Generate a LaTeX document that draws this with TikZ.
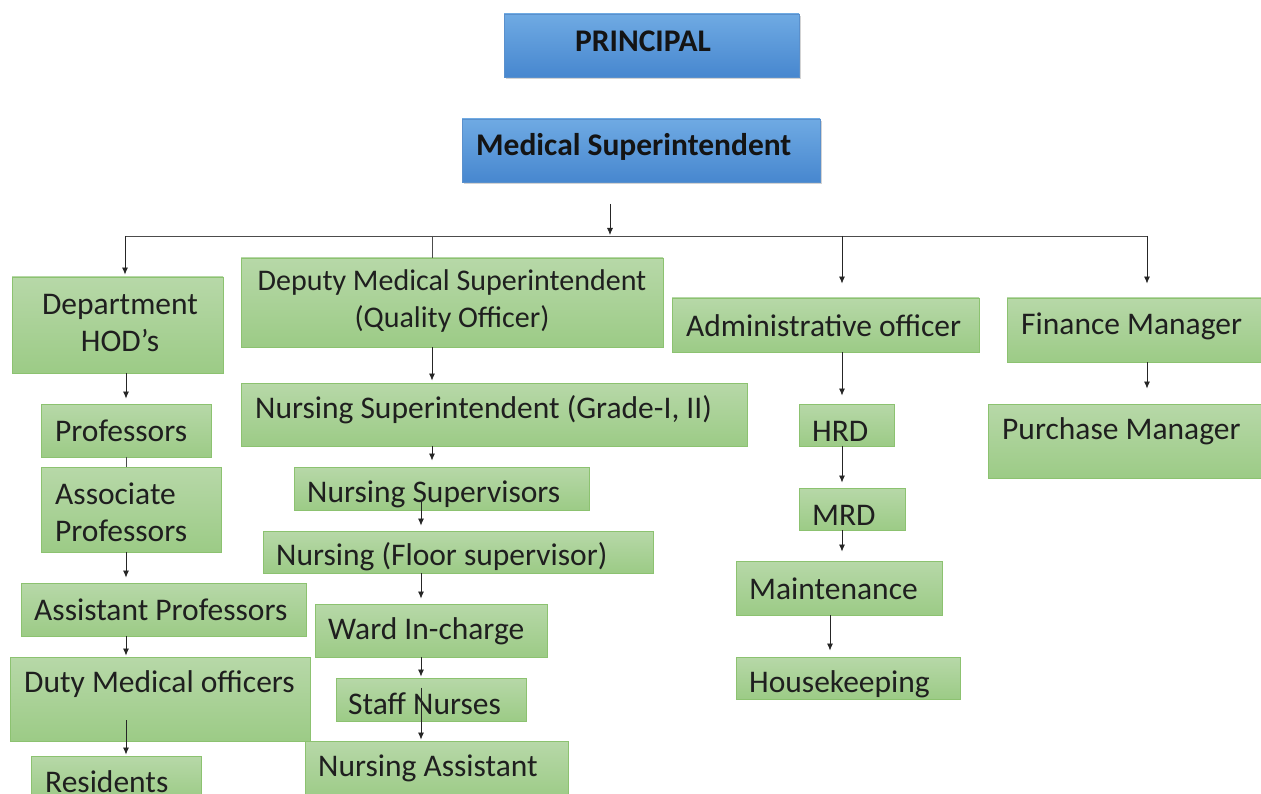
\documentclass[tikz,border=0pt]{standalone}
\usepackage{fontspec}
\setmainfont{Carlito}
\usetikzlibrary{fit,shadows,arrows.meta}
\definecolor{gtop}{HTML}{B7D8A8}
\definecolor{gbot}{HTML}{9CCB86}
\definecolor{gborder}{HTML}{8CC270}
\definecolor{btop}{HTML}{6FAAE3}
\definecolor{bbot}{HTML}{4787CF}
\definecolor{bborder}{HTML}{5A90CC}
\tikzset{
  gbox/.style={draw=gborder, line width=0.9pt, top color=gtop, bottom color=gbot, inner sep=0pt},
  bbox/.style={draw=bborder, line width=0.6pt, top color=btop, bottom color=bbot, inner sep=0pt,
     drop shadow={opacity=0.35, shadow xshift=1.5pt, shadow yshift=-2.5pt}},
  txt/.style={font=\fontsize{31.5}{37}\selectfont, text=black!88, inner sep=0pt, anchor=west},
  btxt/.style={font=\fontsize{31.5}{37}\selectfont\bfseries, text=black!92, inner sep=0pt},
  arr/.style={draw=black!85, line width=0.8pt, -{Latex[length=7pt,width=6pt]}, shorten >=2pt},
  ln/.style={draw=black!70, line width=0.8pt},
}
\begin{document}
\begin{tikzpicture}[x=1pt,y=-1pt]
\useasboundingbox (0,0) rectangle (1261,794);
% columns
\coordinate (cA) at (126,0);
\coordinate (cB) at (432,0);
\coordinate (cC) at (421,0);
\coordinate (cD) at (842,0);
\coordinate (cE) at (830,0);
\coordinate (cF) at (1147,0);
\coordinate (cM) at (610,0);
% blue boxes
\node[bbox, fit={(504,14) (799,77)}] (pr) {};
\node[btxt] (prT) at (643,41) {PRINCIPAL};
\node[bbox, fit={(462,119) (820,182)}] (ms) {};
\node[btxt, anchor=west] (msT) at (476,147) {Medical Superintendent};
% bar
\coordinate (barL) at (125,236);
\coordinate (barR) at (1147,236);
\draw[ln] (barL) -- (barR);
\coordinate (msdrop) at (610,204);
\draw[arr, shorten >=1pt] (msdrop) -- (barL -| cM);
% green boxes - left column
\node[gbox, fit={(12,277) (223,373)}] (hod) {};
\node[txt, anchor=center, align=center] (hodT) at (120,323) {Department\\HOD’s};
\node[gbox, fit={(41,404) (211,457)}] (prof) {};
\node[txt] (profT) at (55,431) {Professors};
\node[gbox, fit={(41,467) (221,552)}] (aprof) {};
\node[txt, align=left] (aprofT) at (55,512) {Associate\\Professors};
\node[gbox, fit={(21,583) (306,636)}] (asp) {};
\node[txt] (aspT) at (34,610) {Assistant Professors};
\node[gbox, fit={(10,657) (310,741)}] (dmo) {};
\node[txt] (dmoT) at (24,684) {Duty Medical officers};
\node[gbox, fit={(31,756) (201,800)}] (res) {};
\node[txt] (resT) at (45,782) {Residents};
% middle column
\node[gbox, fit={(241,258) (663,347)}] (dep) {};
\node[txt, anchor=center, align=center, font=\fontsize{30}{37}\selectfont] (depT) at (452,301) {Deputy Medical Superintendent\\(Quality Officer)};
\node[gbox, fit={(241,383) (747,446)}] (nsi) {};
\node[txt] (nsiT) at (255,410) {Nursing Superintendent (Grade-I, II)};
\node[gbox, fit={(294,467) (589,510)}] (nsv) {};
\node[txt] (nsvT) at (307,494) {Nursing Supervisors};
\node[gbox, fit={(263,531) (653,573)}] (nfs) {};
\node[txt] (nfsT) at (276,557) {Nursing (Floor supervisor)};
\node[gbox, fit={(315,604) (547,657)}] (wic) {};
\node[txt] (wicT) at (328,631) {Ward In-charge};
\node[gbox, fit={(336,678) (526,721)}] (stn) {};
\node[txt] (stnT) at (348,704) {Staff Nurses};
\node[gbox, fit={(305,741) (568,800)}] (nas) {};
\node[txt] (nasT) at (318,768) {Nursing Assistant};
% admin column
\node[gbox, fit={(672,298) (979,352)}] (adm) {};
\node[txt] (admT) at (686,326) {Administrative officer};
\node[gbox, fit={(799,404) (894,446)}] (hrd) {};
\node[txt] (hrdT) at (812,431) {HRD};
\node[gbox, fit={(799,488) (905,530)}] (mrd) {};
\node[txt] (mrdT) at (812,515) {MRD};
\node[gbox, fit={(736,561) (942,615)}] (mnt) {};
\node[txt] (mntT) at (749,589) {Maintenance};
\node[gbox, fit={(736,657) (960,699)}] (hk) {};
\node[txt] (hkT) at (749,684) {Housekeeping};
% finance column
\node[gbox, fit={(1007,298) (1265,362)}] (fin) {};
\node[txt] (finT) at (1021,326) {Finance Manager};
\node[gbox, fit={(988,404) (1265,478)}] (pur) {};
\node[txt] (purT) at (1002,431) {Purchase Manager};
% connectors from bar
\draw[arr] (barL) -- (hod.north -| barL);
\draw[ln] (barL -| cB) -- (dep.north -| cB);
\draw[arr, shorten >=14pt] (barL -| cD) -- (adm.north -| cD);
\draw[arr, shorten >=14pt] (barR) -- (fin.north -| cF);
% left chain
\draw[arr, shorten >=5pt] (hod.south -| cA) -- (prof.north -| cA);
\draw[ln] (prof.south -| cA) -- (aprof.north -| cA);
\draw[arr, shorten >=5pt] (aprof.south -| cA) -- (asp.north -| cA);
\draw[arr, shorten >=1pt] (asp.south -| cA) -- (dmo.north -| cA);
\draw[arr, shorten >=1pt] ([yshift=21pt]dmo.south -| cA) -- (res.north -| cA);
% middle chain
\draw[arr] (dep.south -| cB) -- (nsi.north -| cB);
\draw[arr, shorten >=6pt] (nsi.south -| cB) -- (nsv.north -| cB);
\draw[arr, shorten >=5pt] ([yshift=10pt]nsv.south -| cC) -- (nfs.north -| cC);
\draw[arr, shorten >=5pt] (nfs.south -| cC) -- (wic.north -| cC);
\draw[arr, shorten >=1pt] (wic.south -| cC) -- (stn.north -| cC);
\draw[arr, shorten >=1pt] ([yshift=-10pt]stn.north -| cC) -- (nas.north -| cC);
% admin chain
\draw[arr, shorten >=8pt] (adm.south -| cD) -- (hrd.north -| cD);
\draw[arr, shorten >=5pt] (hrd.south -| cD) -- (mrd.north -| cD);
\draw[arr, shorten >=9pt] (mrd.south -| cD) -- (mnt.north -| cD);
\draw[arr, shorten >=6pt] (mnt.south -| cE) -- (hk.north -| cE);
% finance chain
\draw[arr, shorten >=15pt] (fin.south -| cF) -- (pur.north -| cF);
\end{tikzpicture}
\end{document}
